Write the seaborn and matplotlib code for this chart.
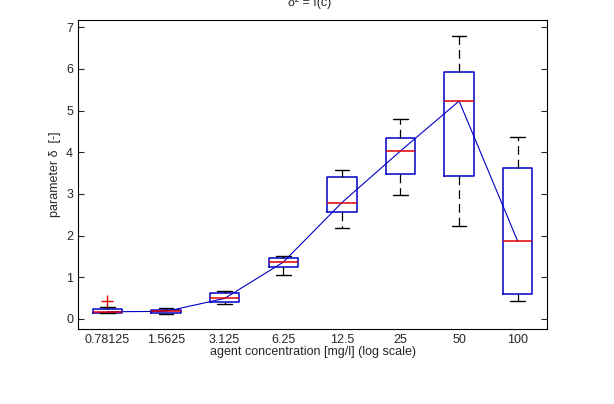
import matplotlib
matplotlib.use("Agg")
import matplotlib.pyplot as plt
import seaborn as sns
import pandas as pd
import numpy as np

# concentrations (categories on log-spaced axis)
concentrations = ['0.78125', '1.5625', '3.125', '6.25', '12.5', '25', '50', '100']

obs_078 = [0.13, 0.135, 0.14, 0.16, 0.17, 0.20, 0.24, 0.29, 0.44]
obs_156 = [0.12, 0.14, 0.18, 0.22, 0.25]
obs_3125 = [0.36, 0.41, 0.49, 0.62, 0.66]
obs_625 = [1.05, 1.24, 1.36, 1.46, 1.51]
obs_125 = [2.17, 2.56, 2.79, 3.40, 3.58]
obs_25 = [2.98, 3.48, 4.03, 4.34, 4.80]
obs_50 = [2.24, 3.44, 5.23, 5.93, 6.80]
obs_100 = [0.43, 0.60, 1.86, 3.63, 4.37]

groups = [obs_078, obs_156, obs_3125, obs_625, obs_125, obs_25, obs_50, obs_100]

rows = []
for c, vals in zip(concentrations, groups):
    for v in vals:
        rows.append({'conc': c, 'delta': v})
df = pd.DataFrame(rows)

medians = pd.DataFrame({'pos': np.arange(len(concentrations)),
                        'median': [np.median(g) for g in groups]})

sns.set_style("white")
plt.rcParams['font.family'] = ['Liberation Sans', 'DejaVu Sans']

fig = plt.figure(figsize=(6.14, 4.04), dpi=100)
ax = fig.add_axes([0.127, 0.186, 0.764, 0.764])

blue = '#0000c8'
sns.boxplot(data=df, x='conc', y='delta', order=concentrations, ax=ax,
            fill=False, width=0.5, whis=1.5,
            boxprops=dict(color=blue, linewidth=1.1),
            medianprops=dict(color='#e00000', linewidth=1.1),
            whiskerprops=dict(color='black', linestyle=(0, (7, 4)), linewidth=0.9),
            capprops=dict(color='black', linewidth=1.0),
            flierprops=dict(marker='+', markeredgecolor='#e00000',
                            markersize=8, markeredgewidth=1.0))

sns.lineplot(data=medians, x='pos', y='median', ax=ax, color=blue,
             linewidth=0.8)

ax.set_xlim(-0.5, 7.5)
ax.set_ylim(-0.24, 7.17)
ax.set_yticks(range(0, 8))
ax.set_xlabel('agent concentration [mg/l] (log scale)', fontsize=9, labelpad=0)
ax.set_ylabel('parameter δ  [-]', fontsize=9)
ax.tick_params(axis='x', length=0, labelsize=9, pad=4)
ax.tick_params(axis='y', direction='in', length=4, labelsize=9,
               left=True, right=True, width=0.8)
for s in ax.spines.values():
    s.set_visible(True)
    s.set_color('black')
    s.set_linewidth(0.8)

fig.text(0.505, 0.993, 'δ² = f(c)', ha='center', va='center', fontsize=9)

fig.savefig('out.png', dpi=100)
